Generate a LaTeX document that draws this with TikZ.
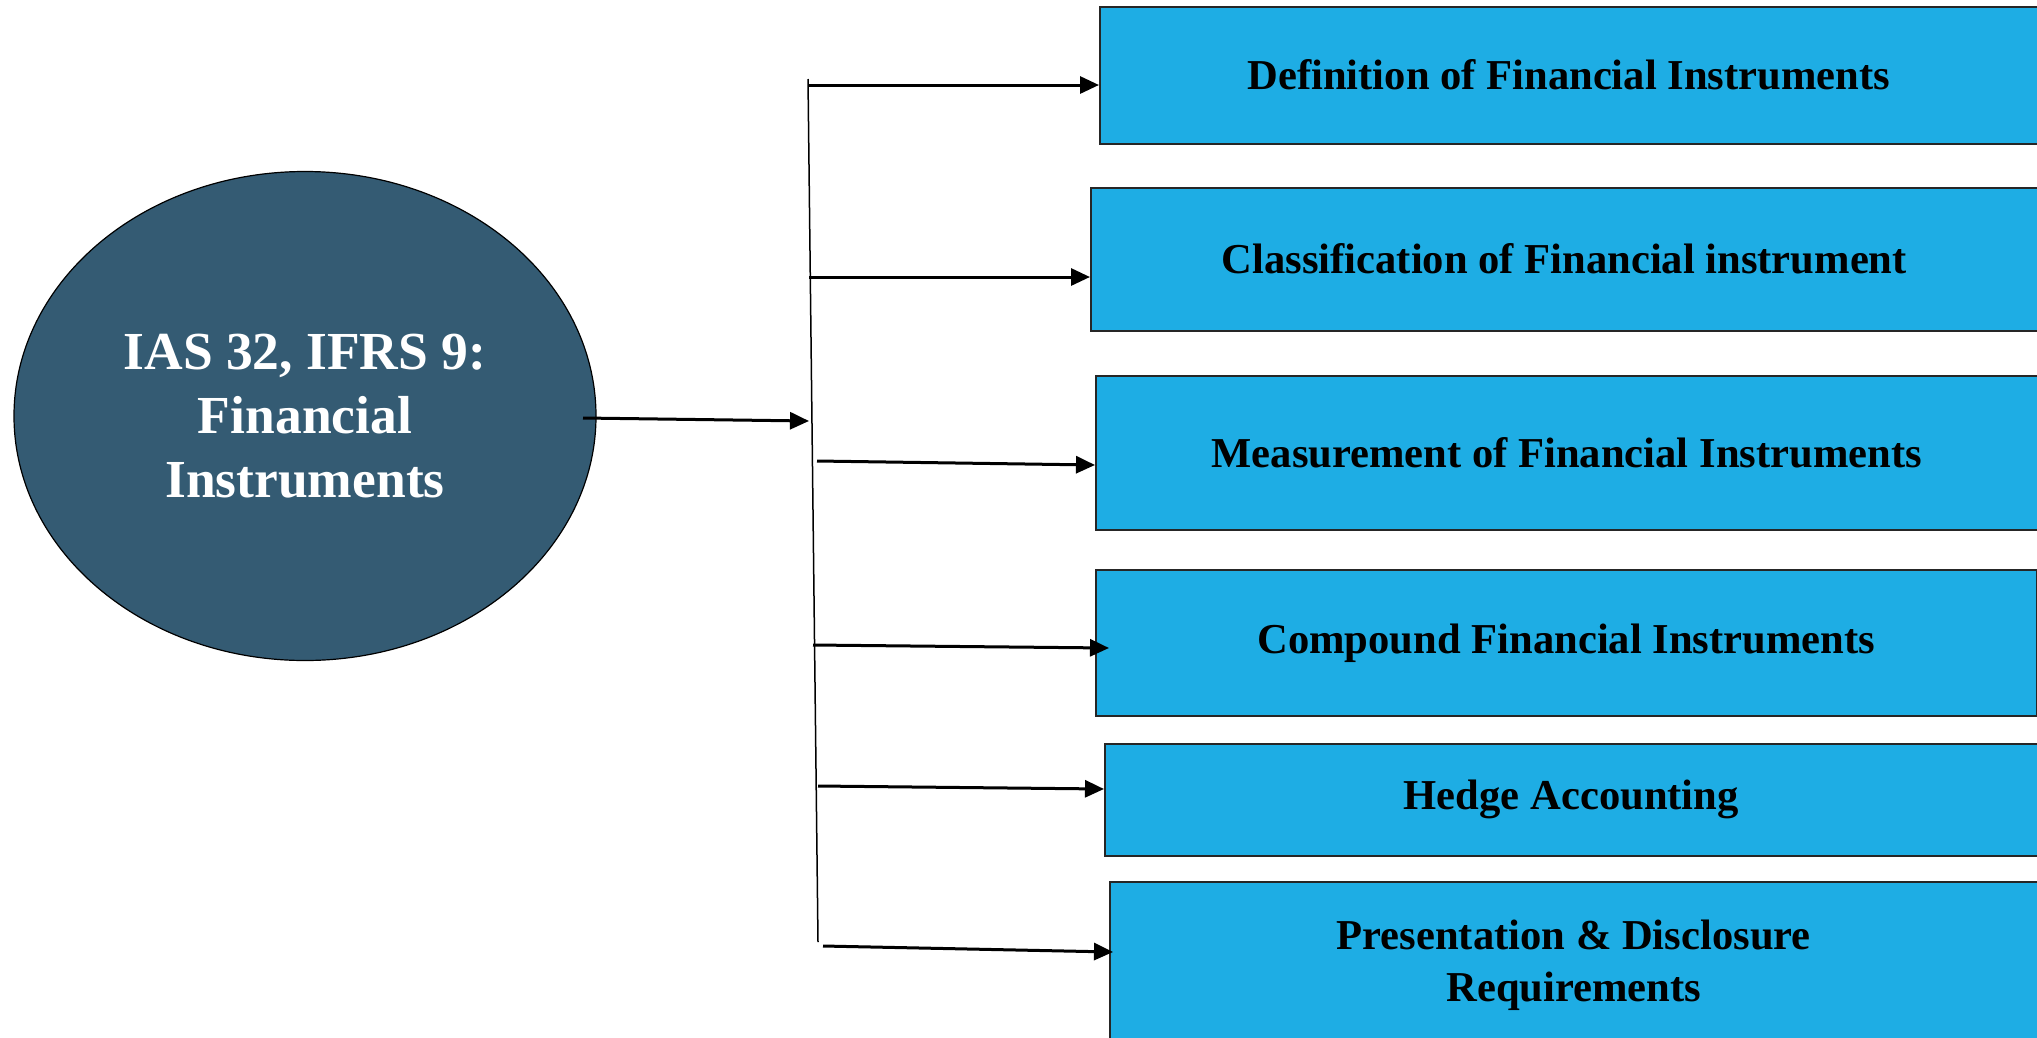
\documentclass[tikz,border=0pt]{standalone}
\usepackage{fontspec}
\setmainfont{Liberation Serif}
\usetikzlibrary{shapes.geometric,arrows.meta}
\definecolor{boxblue}{RGB}{30,173,228}
\definecolor{ovalteal}{RGB}{52,91,115}
\begin{document}
\begin{tikzpicture}[x=1pt, y=-1pt,
  topic/.style={draw=black!85, line width=1.5pt, fill=boxblue, anchor=north west,
    inner sep=0pt, align=center, font=\fontsize{42.6}{52}\selectfont\bfseries},
  hubarrow/.style={line width=3pt, -{Triangle[length=19pt,width=17pt]}}]
\clip (0,0) rectangle (2037,1037);
% main topic
\node[ellipse, draw, line width=1.2pt, fill=ovalteal, text=white, align=center,
  minimum width=582, minimum height=489, font=\fontsize{53.5}{64}\selectfont\bfseries]
  (F) at (305,416) {IAS 32, IFRS 9:\\Financial\\Instruments};
% spine
\coordinate (T) at (808,79);
\coordinate (U) at (818,942);
\draw[line width=1.5pt] (T) -- (U);
\coordinate (H) at (809,421);
\draw[hubarrow] (583,418) -- (H);
% topics
\node[topic, minimum width=938, minimum height=137] (B_1) at (1099,6) {Definition of Financial Instruments};
\node[topic, minimum width=947, minimum height=143] (B_2) at (1090,187) {Classification of Financial instrument};
\node[topic, minimum width=942, minimum height=154] (B_3) at (1095,375) {Measurement of Financial Instruments};
\node[topic, minimum width=941, minimum height=146] (B_4) at (1095,569) {Compound Financial Instruments};
\node[topic, minimum width=933, minimum height=112] (B_5) at (1104,743) {Hedge Accounting};
\node[topic, minimum width=928, minimum height=166] (B_6) at (1109,881) {Presentation \& Disclosure\\Requirements};
% branches
\coordinate (S_1) at (808,85);
\draw[hubarrow] (S_1) -- (B_1.west |- 0,85);
\coordinate (S_2) at (809,277);
\draw[hubarrow] (S_2) -- (B_2.west |- 0,277);
\coordinate (S_3) at (817,461);
\draw[hubarrow] (S_3) -- (B_3.west |- 0,465);
\coordinate (S_4) at (813,645);
\draw[hubarrow] (S_4) -- ([xshift=14]B_4.west |- 0,648);
\coordinate (S_5) at (818,786);
\draw[hubarrow] (S_5) -- (B_5.west |- 0,789);
\coordinate (S_6) at (823,946);
\draw[hubarrow] (S_6) -- ([xshift=4]B_6.west |- 0,952);
\end{tikzpicture}
\end{document}
